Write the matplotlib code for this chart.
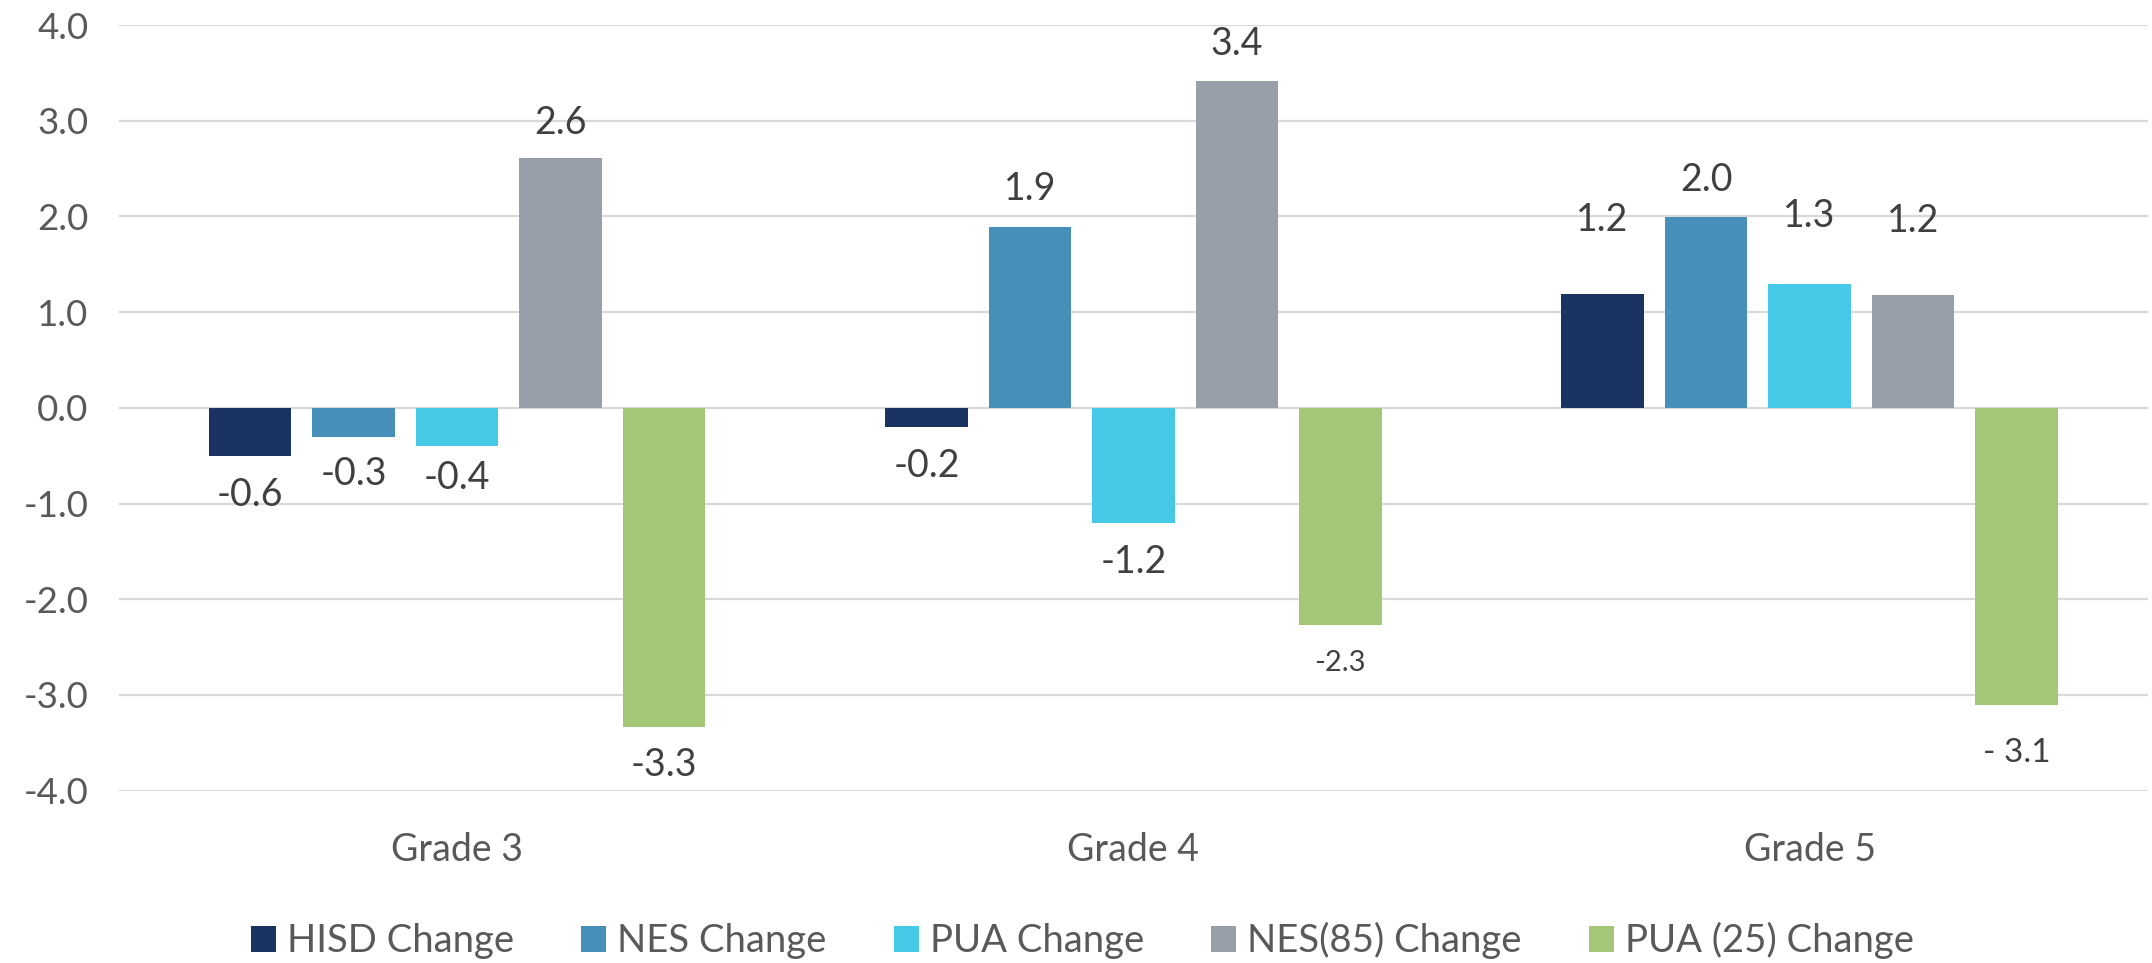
import matplotlib
matplotlib.use("Agg")
import matplotlib.pyplot as plt
import numpy as np

categories = ["Grade 3", "Grade 4", "Grade 5"]
series_names = ["HISD Change", "NES Change", "PUA Change", "NES(85) Change", "PUA (25) Change"]
hisd = [-0.5, -0.2, 1.19]
nes = [-0.3, 1.89, 1.99]
pua = [-0.4, -1.2, 1.29]
nes85 = [2.61, 3.41, 1.18]
pua25 = [-3.33, -2.27, -3.11]
hisd_labels = ["-0.6", "-0.2", "1.2"]
nes_labels = ["-0.3", "1.9", "2.0"]
pua_labels = ["-0.4", "-1.2", "1.3"]
nes85_labels = ["2.6", "3.4", "1.2"]
pua25_labels = ["-3.3", "-2.3", "- 3.1"]
yticks = [-4.0, -3.0, -2.0, -1.0, 0.0, 1.0, 2.0, 3.0, 4.0]

series = [hisd, nes, pua, nes85, pua25]
labels = [hisd_labels, nes_labels, pua_labels, nes85_labels, pua25_labels]
colors = ["#1B3360", "#458FB8", "#46C9E6", "#989FA8", "#A3C777"]

# label offsets (points) from bar end, layout only
label_off = [
    [28, 28, 53],
    [27, 27, 27],
    [23, 28, 49],
    [25, 27, 53],
    [28, 27, 34],
]
label_size = [
    [27, 27, 27],
    [27, 27, 27],
    [27, 27, 27],
    [27, 27, 27],
    [27, 21, 24],
]

plt.rcParams['font.family'] = ['Lato', 'DejaVu Sans']

fig = plt.figure(figsize=(21.52, 9.63), dpi=100)
ax = fig.add_axes([0.0553, 0.179, 0.9427, 0.795])

x = np.arange(len(categories))
pitch = 0.153
width = 0.122
for i, (vals, col) in enumerate(zip(series, colors)):
    pos = x + (i - 2) * pitch
    ax.bar(pos, vals, width=width, color=col, label=series_names[i], zorder=3)
    for j, (p, v) in enumerate(zip(pos, vals)):
        off = label_off[i][j]
        sign = 1 if v >= 0 else -1
        ax.annotate(labels[i][j], (p, v), xytext=(0, sign * off), textcoords="offset points",
                    ha="center", va="center", fontsize=label_size[i][j], color="#404040")

ax.set_xlim(-0.5, 2.5)
ax.set_ylim(-4, 4)
ax.set_yticks(yticks)
ax.set_yticklabels([f"{t:.1f}" for t in yticks])
ax.set_xticks(x)
ax.set_xticklabels(categories)
ax.tick_params(axis='y', length=0, labelsize=26.5, labelcolor="#595959", pad=22)
ax.tick_params(axis='x', length=0, labelsize=27, labelcolor="#595959", pad=30)
ax.yaxis.grid(True, color="#D9D9D9", linewidth=1.6, zorder=0)
ax.set_axisbelow(True)
for s in ax.spines.values():
    s.set_visible(False)

leg = fig.legend(loc="center", bbox_to_anchor=(0.503, 0.023), ncol=5, frameon=False,
                 fontsize=27.5, labelcolor="#595959", handlelength=0.65, handleheight=0.7,
                 handletextpad=0.3, columnspacing=1.75)

fig.savefig("out.png", dpi=100)
